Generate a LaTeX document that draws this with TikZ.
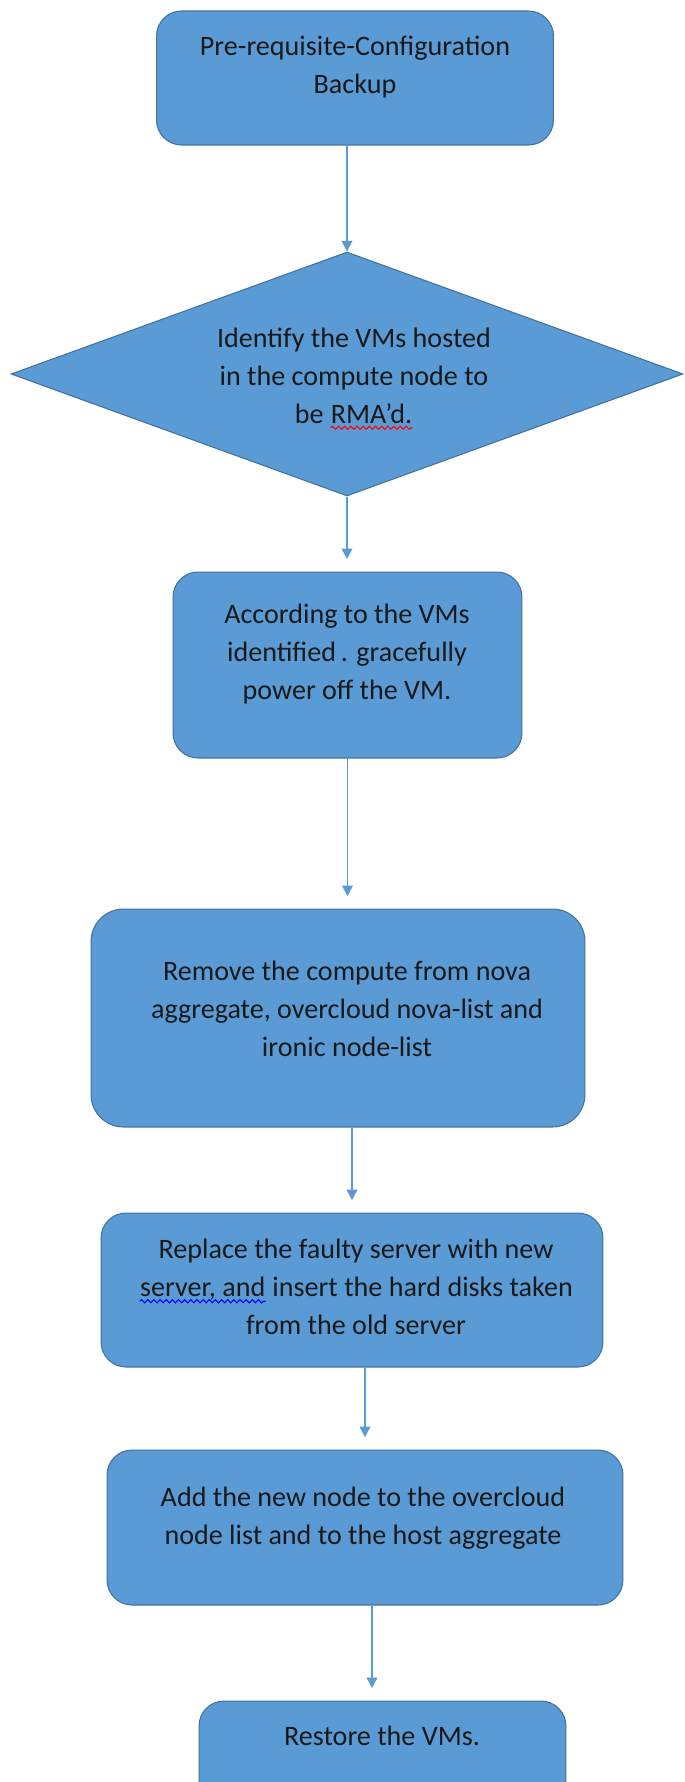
\documentclass[tikz,border=0pt]{standalone}
\usepackage{fontspec}
\setmainfont{Carlito}
\usepackage{xcolor}
\usepackage{tikz}
\definecolor{boxblue}{RGB}{91, 155, 213}
\definecolor{edgeblue}{RGB}{65, 113, 156}
\usetikzlibrary{shapes, arrows.meta, positioning, calc, decorations.pathmorphing}

% spell-check squiggle under a word
\newcommand{\wavy}[2]{\tikz[baseline=(w.base)]{\node[inner sep=0pt] (w) {#2}; \draw[#1, line width=0.6pt, decorate, decoration={snake, amplitude=0.9pt, segment length=3.5pt}] ([yshift=-2.6pt]w.base west) -- ([yshift=-2.6pt]w.base east);}}

\begin{document}
\begin{tikzpicture}[
    x=0.02cm, y=-0.02cm,
    stepbox/.style={rectangle, rounded corners=0.5cm, draw=edgeblue, fill=boxblue, line width=0.6pt},
    decision/.style={diamond, draw=edgeblue, fill=boxblue, line width=0.6pt, inner sep=0pt},
    lbl/.style={align=center, font=\fontsize{16}{21.5}\selectfont, text=black!90},
    arrow/.style={-{Triangle[width=6pt, length=6pt]}, boxblue, line width=0.9pt, shorten >=7pt}
]
    \useasboundingbox (0,0) rectangle (685,1782);
    \clip (0,0) rectangle (685,1782);

    % Shapes
    \node[stepbox, minimum width=7.94cm, minimum height=2.68cm] (b1) at (355,78) {};
    \node[decision, minimum width=13.44cm, minimum height=4.88cm] (d2) at (347,374) {};
    \node[stepbox, minimum width=6.98cm, minimum height=3.72cm] (b3) at (347.5,665) {};
    \node[stepbox, rounded corners=0.65cm, minimum width=9.88cm, minimum height=4.36cm] (b4) at (338,1018) {};
    \node[stepbox, minimum width=10.04cm, minimum height=3.08cm] (b5) at (352,1290) {};
    \node[stepbox, minimum width=10.32cm, minimum height=3.1cm] (b6) at (365,1527.5) {};
    \node[stepbox, minimum width=7.34cm, minimum height=2.4cm] (b7) at (382.5,1761) {};

    % Texts
    \node[lbl] (t1) at (355,67) {Pre-requisite-Configuration\\Backup};
    \node[lbl] (t2) at (354,379) {Identify the VMs hosted\\in the compute node to\\be \wavy{red}{RMA’d.}};
    \node[lbl] (t3) at (347,654) {According to the VMs\\identified\,. gracefully\\power off the VM.};
    \node[lbl] (t4) at (347,1009) {Remove the compute from nova\\aggregate, overcloud nova-list and\\ironic node-list};
    \node[lbl] (t5) at (356,1287) {Replace the faulty server with new\\\wavy{blue}{server, and} insert the hard disks taken\\from the old server};
    \node[lbl] (t6) at (363,1518) {Add the new node to the overcloud\\node list and to the host aggregate};
    \node[lbl] (t7) at (382,1736) {Restore the VMs.};

    % Connectors
    \draw[arrow, shorten >=0pt] (b1.south -| d2.north) -- (d2.north);
    \draw[arrow] (d2.south) -- (d2.south |- b3.north);
    \draw[arrow] (b3.south) -- (b3.south |- b4.north);
    \draw[arrow] (b4.south -| b5.north) -- (b5.north);
    \draw[arrow] (b5.south -| b6.north) -- (b6.north);
    \draw[arrow] ([xshift=0.14cm]b6.south) -- ([xshift=0.14cm]b6.south |- b7.north);

\end{tikzpicture}
\end{document}
